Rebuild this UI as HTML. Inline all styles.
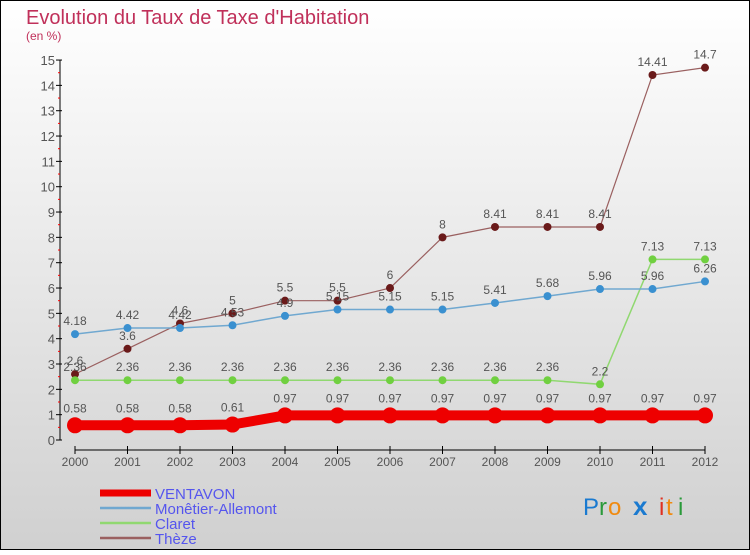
<!DOCTYPE html>
<html><head><meta charset="utf-8"><style>
body{margin:0;}
#c{width:750px;height:550px;position:relative;font-family:"Liberation Sans",sans-serif;}
</style></head><body>
<div id="c">
<svg id="s" width="750" height="550" xmlns="http://www.w3.org/2000/svg">
<defs><linearGradient id="bg" x1="0" y1="0" x2="0" y2="1"><stop offset="0" stop-color="#ffffff"/><stop offset="1" stop-color="#d0d0d0"/></linearGradient></defs>
<rect x="0.5" y="0.5" width="749" height="549" fill="url(#bg)" stroke="#000"/>
<text x="26" y="24" font-size="20" fill="#c0305a">Evolution du Taux de Taxe d'Habitation</text>
<text x="26" y="40" font-size="12" fill="#c0305a">(en %)</text>
<g id="axes"></g><g id="series"></g><g id="legend"></g>
<g font-size="24" font-family="'Liberation Sans',sans-serif">
<text x="583" y="515" fill="#1a7ad0">P</text><text x="599" y="515" fill="#2a9a3a">r</text><text x="608" y="515" fill="#f08a10">o</text><text x="633" y="515" fill="#1a7ad0" font-weight="bold" font-size="26">x</text><text x="659" y="515" fill="#e03020">i</text><text x="666" y="515" fill="#f08a10">t</text><text x="678" y="515" fill="#2a9a3a">i</text>
</g>
</svg>
</div>
<script>
const years=[2000,2001,2002,2003,2004,2005,2006,2007,2008,2009,2010,2011,2012];
const ventavon=[0.58,0.58,0.58,0.61,0.97,0.97,0.97,0.97,0.97,0.97,0.97,0.97,0.97];
const monetier=[4.18,4.42,4.42,4.53,4.9,5.15,5.15,5.15,5.41,5.68,5.96,5.96,6.26];
const claret=[2.36,2.36,2.36,2.36,2.36,2.36,2.36,2.36,2.36,2.36,2.2,7.13,7.13];
const theze=[2.6,3.6,4.6,5,5.5,5.5,6,8,8.41,8.41,8.41,14.41,14.7];
const yTicks=[0,1,2,3,4,5,6,7,8,9,10,11,12,13,14,15];
const NS="http://www.w3.org/2000/svg";
const X=i=>75+i*52.5, Y=v=>440-v*25.33;
function mk(p,t,a){const e=document.createElementNS(NS,t);for(const k in a)e.setAttribute(k,a[k]);p.appendChild(e);return e;}
const ax=document.getElementById('axes');
let l=mk(ax,'line',{x1:60,y1:Y(15),x2:60,y2:Y(0),stroke:'#000'});


yTicks.forEach(v=>{
 mk(ax,'line',{x1:56,y1:Y(v),x2:62,y2:Y(v),stroke:'#000'});
 if(v<15) mk(ax,'line',{x1:58,y1:Y(v+0.5),x2:60,y2:Y(v+0.5),stroke:'#f00'});
 const t=mk(ax,'text',{x:55,y:Y(v)+5,'text-anchor':'end','font-size':13,fill:'#555'});t.textContent=v;
 
 
});
l=mk(ax,'line',{x1:X(0),y1:450,x2:X(12),y2:450,stroke:'#000'});


years.forEach((y,i)=>{
 mk(ax,'line',{x1:X(i),y1:446,x2:X(i),y2:454,stroke:'#000'});
 const t=mk(ax,'text',{x:X(i),y:466,'text-anchor':'middle','font-size':12,fill:'#555'});t.textContent=y;
 
 
});
const sg=document.getElementById('series');
const series=[
 {n:'Thèze',d:theze,c:'#6a1a1a',lc:'#9a6060',w:1.2,r:4,k:'theze'},
 {n:'Claret',d:claret,c:'#70d040',lc:'#90d870',w:1.5,r:4,k:'claret'},
 {n:'Monêtier-Allemont',d:monetier,c:'#3a90d0',lc:'#70a8d0',w:1.5,r:4,k:'monetier'},
 {n:'VENTAVON',d:ventavon,c:'#ee0000',lc:'#ee0000',w:10,r:8,k:'ventavon'}];
series.forEach(s=>{
 const g=mk(sg,'g',{});
 
 
 mk(g,'polyline',{points:s.d.map((v,i)=>X(i)+','+Y(v)).join(' '),fill:'none',stroke:s.lc,'stroke-width':s.w});
 s.d.forEach((v,i)=>{
  const c=mk(g,'circle',{cx:X(i),cy:Y(v),r:s.r,fill:s.c});
  
  
  const t=mk(g,'text',{x:X(i),y:Y(v)-s.r-5,'text-anchor':'middle','font-size':12,fill:'#555'});t.textContent=v;
  
  
 });
});
const lg=document.getElementById('legend');
[series[3],series[2],series[1],series[0]].forEach((s,i)=>{
 const y=493+i*15;
 const g=mk(lg,'g',{});
 
 
 mk(g,'line',{x1:100,y1:y,x2:151,y2:y,stroke:s.lc,'stroke-width':s.k==='ventavon'?7:2.5});
 const t=mk(g,'text',{x:155,y:y+6,'font-size':15,fill:'#5555ee'});t.textContent=s.n;
});
</script>
</body></html>
